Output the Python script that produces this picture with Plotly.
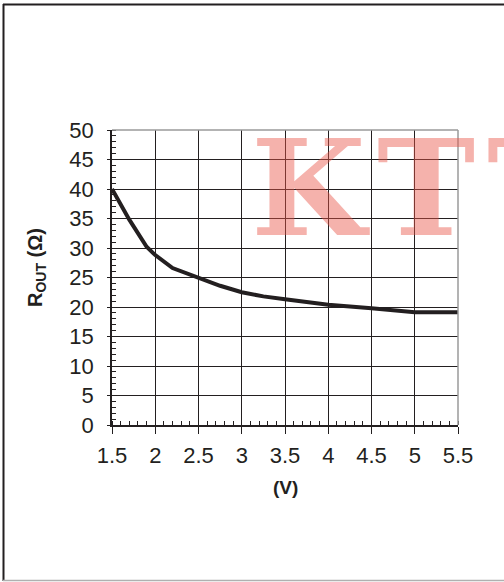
import plotly.graph_objects as go

# Data
vcc = [1.5, 1.7, 1.9, 2.0, 2.2, 2.4, 2.5, 2.75, 3.0, 3.25, 3.5, 4.0, 4.5, 5.0, 5.5]
rout = [40.0, 34.8, 30.2, 28.8, 26.6, 25.5, 24.9, 23.6, 22.5, 21.8, 21.3, 20.4, 19.8, 19.1, 19.1]

x_ticks = [1.5, 2, 2.5, 3, 3.5, 4, 4.5, 5, 5.5]
x_ticktext = ["1.5", "2", "2.5", "3", "3.5", "4", "4.5", "5", "5.5"]
y_ticks = [0, 5, 10, 15, 20, 25, 30, 35, 40, 45, 50]
watermark = ["K", "T", "T"]

W, H = 504, 582
L, R, T, B = 112, 458, 130, 425  # plot area pixel box

def px(xp):
    return (xp - L) / (R - L)

def py(yp):
    return (B - yp) / (B - T)

fig = go.Figure()
fig.add_trace(go.Scatter(
    x=vcc, y=rout, mode="lines",
    line=dict(color="#231f20", width=4, shape="linear"),
    showlegend=False, hoverinfo="skip",
))

font = "Liberation Sans"

fig.update_layout(
    width=W, height=H,
    margin=dict(l=L, r=W - R, t=T, b=H - B, pad=0),
    paper_bgcolor="white", plot_bgcolor="white",
    font=dict(family=font, color="#231f20"),
    xaxis=dict(
        range=[1.5, 5.5], tickvals=x_ticks, ticktext=x_ticktext,
        showgrid=True, gridcolor="#231f20", gridwidth=1,
        showline=True, linecolor="#231f20", linewidth=1.5,
        ticks="outside", ticklen=7, tickcolor="#231f20", tickwidth=1,
        tickfont=dict(size=22, family=font, color="#231f20"),
        ticklabelstandoff=3,
        minor=dict(dtick=0.1, tick0=1.5, ticks="inside", ticklen=4,
                   tickcolor="#231f20", tickwidth=1, showgrid=False),
        zeroline=False, fixedrange=True,
    ),
    yaxis=dict(
        range=[0, 50], tickvals=y_ticks,
        showgrid=True, gridcolor="#231f20", gridwidth=1,
        showline=True, linecolor="#231f20", linewidth=1.5,
        ticks="outside", ticklen=3, tickcolor="#231f20", tickwidth=1,
        tickfont=dict(size=22, family=font, color="#231f20"),
        ticklabelstandoff=9,
        minor=dict(dtick=1, tick0=0, ticks="inside", ticklen=4,
                   tickcolor="#231f20", tickwidth=1, showgrid=False),
        zeroline=False, fixedrange=True,
    ),
)

shapes = [
    dict(type="line", xref="paper", yref="paper", x0=0, x1=1, y0=1, y1=1,
         line=dict(color="#9a9a9a", width=1.5)),
    dict(type="line", xref="paper", yref="paper", x0=1, x1=1, y0=0, y1=1,
         line=dict(color="#9a9a9a", width=1.5)),
    dict(type="line", xref="paper", yref="paper", x0=px(3.5), x1=px(3.5), y0=py(4), y1=py(581),
         line=dict(color="#231f20", width=2)),
    dict(type="line", xref="paper", yref="paper", x0=px(3), x1=px(510), y0=py(4.5), y1=py(4.5),
         line=dict(color="#231f20", width=2)),
    dict(type="line", xref="paper", yref="paper", x0=px(3), x1=px(510), y0=py(580.5), y1=py(580.5),
         line=dict(color="#b0b0b0", width=1.5)),
]
fig.update_layout(shapes=shapes)

annotations = [
    dict(text="<b>R<sub>OUT</sub> (Ω)</b>", xref="paper", yref="paper",
         x=px(36), y=py(268), textangle=-90, showarrow=False,
         xanchor="center", yanchor="middle",
         font=dict(size=20, family=font, color="#231f20")),
    dict(text="<b>(V)</b>", xref="paper", yref="paper",
         x=px(285), y=py(487), showarrow=False,
         xanchor="center", yanchor="middle",
         font=dict(size=19, family=font, color="#231f20")),
]
wm_centers = [310, 426, 536]
for ch, cx in zip(watermark, wm_centers):
    annotations.append(dict(
        text="<b>%s</b>" % ch, xref="paper", yref="paper",
        x=px(cx), y=py(188), showarrow=False,
        xanchor="center", yanchor="middle",
        font=dict(size=132, family="DejaVu Serif",
                  color="rgba(233,85,70,0.45)"),
    ))
fig.update_layout(annotations=annotations)

fig.write_html("out.html", config={"displayModeBar": False},
               post_script="document.body.style.margin='0';")
